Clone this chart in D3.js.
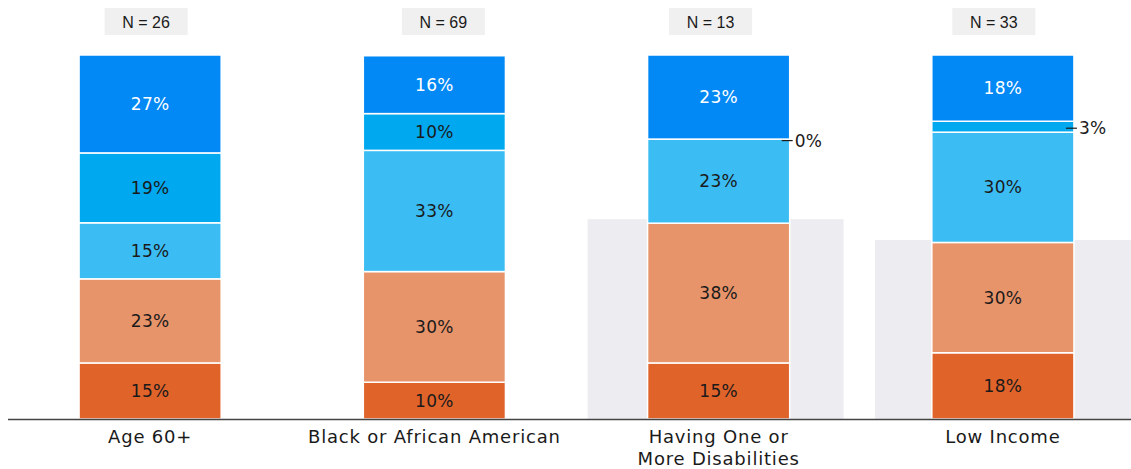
<!DOCTYPE html>
<html>
<head>
<meta charset="utf-8">
<script src="https://cdn.jsdelivr.net/npm/d3@7"></script>
<style>
  html, body { margin: 0; padding: 0; background: #ffffff; }
  svg { display: block; }
</style>
</head>
<body>
<svg id="chart" width="1131" height="469"></svg>
<script>
// ---- data ----
const categories = ["Age 60+", "Black or African American", "Having One or\nMore Disabilities", "Low Income"];
const sampleSizes = [26, 69, 13, 33];
const seriesNames = ["s1", "s2", "s3", "s4", "s5"]; // bottom -> top
const s1 = [15.4, 10.1, 15.4, 18.2];
const s2 = [23.1, 30.4, 38.4, 30.3];
const s3 = [15.4, 33.3, 23.1, 30.3];
const s4 = [19.2, 10.1, 0.0, 3.0];
const s5 = [26.9, 15.9, 23.1, 18.2];
const highlightLevel = [null, null, 54.9, 49.2];
const nBoxShift = [-4, 9, -8, -9];
const highlightShift = [0, 0, -3, 0];

// ---- styles ----
const colors = ["#E0632A", "#E8946A", "#3BBDF4", "#00A8F0", "#0389F5"];
const textColors = ["#1a1a1a", "#1a1a1a", "#1a1a1a", "#1a1a1a", "#ffffff"];
const labelFont = "'DejaVu Sans', sans-serif";

const svg = d3.select("#chart");
const baseY = 419, topY = 55;

const x = d3.scaleBand().domain(categories).range([8, 1145]).paddingInner(0.5).paddingOuter(0.25);
const y = d3.scaleLinear().domain([0, 100]).range([baseY, topY]);

const seriesVals = [s1, s2, s3, s4, s5];
const rows = categories.map((c, i) => {
  const r = { cat: c };
  seriesNames.forEach((s, k) => r[s] = seriesVals[k][i]);
  return r;
});
const stacked = d3.stack().keys(seriesNames)(rows);

// highlight backgrounds
svg.append("g").selectAll("rect")
  .data(categories.map((c, i) => ({ c, i, v: highlightLevel[i] })).filter(d => d.v != null))
  .join("rect")
  .attr("x", d => x(d.c) + x.bandwidth() / 2 - 128 + highlightShift[d.i])
  .attr("width", 256)
  .attr("y", d => y(d.v))
  .attr("height", d => baseY - y(d.v))
  .attr("fill", "#EDECF1");

// bars
const layers = svg.append("g").selectAll("g").data(stacked).join("g")
  .attr("fill", (d, k) => colors[k]);
layers.selectAll("rect").data(d => d).join("rect")
  .attr("x", d => x(d.data.cat))
  .attr("width", x.bandwidth())
  .attr("y", d => y(d[1]))
  .attr("height", d => Math.max(0, y(d[0]) - y(d[1])))
  .attr("stroke", "#ffffff")
  .attr("stroke-width", 1.5);

// segment labels
stacked.forEach((layer, k) => {
  layer.forEach(d => {
    const v = d[1] - d[0];
    const lbl = Math.round(v) + "%";
    const cx = x(d.data.cat) + x.bandwidth() / 2;
    const cy = (y(d[0]) + y(d[1])) / 2;
    if (v >= 5) {
      svg.append("text")
        .attr("x", cx).attr("y", cy)
        .attr("text-anchor", "middle").attr("dominant-baseline", "central")
        .attr("font-family", labelFont).attr("font-size", 17)
        .attr("letter-spacing", 0.3)
        .attr("fill", textColors[k])
        .text(lbl);
    } else {
      const right = x(d.data.cat) + x.bandwidth();
      const ly = cy + 1.5;
      svg.append("line")
        .attr("x1", right - 8).attr("x2", right + 3)
        .attr("y1", ly).attr("y2", ly)
        .attr("stroke", "#1a1a1a").attr("stroke-width", 1.2);
      svg.append("text")
        .attr("x", right + 5).attr("y", ly)
        .attr("dominant-baseline", "central")
        .attr("font-family", labelFont).attr("font-size", 17)
        .attr("letter-spacing", 0.3)
        .attr("fill", "#1a1a1a")
        .text(lbl);
    }
  });
});

// N boxes
categories.forEach((c, i) => {
  const cx = x(c) + x.bandwidth() / 2 + nBoxShift[i];
  svg.append("rect")
    .attr("x", cx - 41.5).attr("y", 8).attr("width", 83).attr("height", 27)
    .attr("fill", "#F0F0F0");
  svg.append("text")
    .attr("x", cx).attr("y", 22)
    .attr("text-anchor", "middle").attr("dominant-baseline", "central")
    .attr("font-family", "'Liberation Sans', Arial, sans-serif").attr("font-size", 16)
    .attr("fill", "#1a1a1a")
    .text("N = " + sampleSizes[i]);
});

// axis
const xAxis = d3.axisBottom(x).tickSize(0).tickPadding(0).tickFormat("");
const ax = svg.append("g").attr("transform", `translate(0,${baseY})`).call(xAxis);
ax.select(".domain").remove();
svg.append("line").attr("x1", 8).attr("x2", 1131).attr("y1", baseY + 0.5).attr("y2", baseY + 0.5)
  .attr("stroke", "#444").attr("stroke-width", 1.5);

categories.forEach(c => {
  const lines = c.split("\n");
  const t = svg.append("text")
    .attr("x", x(c) + x.bandwidth() / 2).attr("y", 437)
    .attr("text-anchor", "middle")
    .attr("font-family", labelFont).attr("font-size", 18)
    .attr("letter-spacing", 0.8)
    .attr("fill", "#1a1a1a");
  lines.forEach((l, j) => {
    t.append("tspan").attr("x", x(c) + x.bandwidth() / 2)
      .attr("dy", j === 0 ? "0.35em" : 22).text(l);
  });
});
</script>
</body>
</html>
